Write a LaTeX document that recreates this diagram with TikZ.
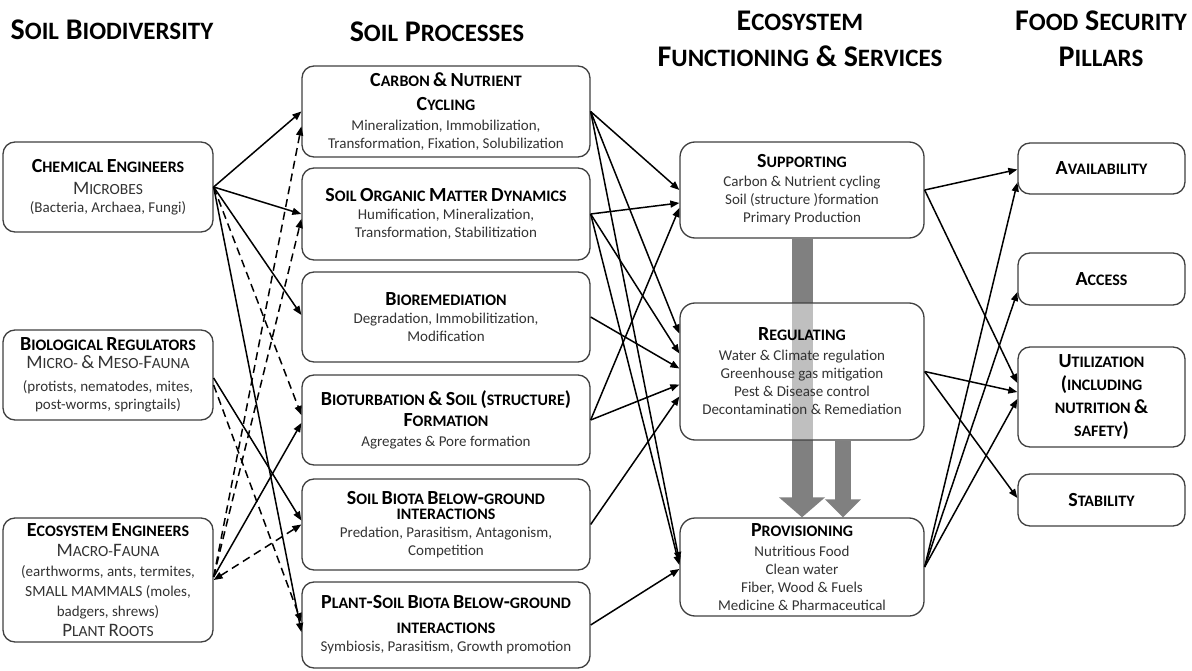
\documentclass[tikz,border=0pt]{standalone}
\usepackage{fontspec}
\setmainfont{Carlito}
\usetikzlibrary{arrows.meta,positioning,calc,backgrounds}
\newcommand\headsc[2]{#1{\fontsize{25}{36}\selectfont #2}}
\newcommand\ttlsc[2]{{\bfseries\color{black}\fontsize{20}{24}\selectfont #1\fontsize{16}{24}\selectfont #2}}
\newcommand\bodysc[2]{{\fontsize{19}{18}\selectfont #1\fontsize{15.5}{18}\selectfont #2}}
\tikzset{
  box/.style   ={draw=black!75,line width=1.3pt,rounded corners=12pt,fill=white,align=center,inner sep=2pt,
                 font=\fontsize{15}{18}\selectfont,text=black!80},
  biota/.style ={box,minimum width=210pt},
  proc/.style  ={box,minimum width=288pt},
  serv/.style  ={box,minimum width=244pt,rounded corners=15pt},
  pillar/.style={box,minimum width=167pt},
  head/.style  ={align=center,anchor=north,inner sep=0pt,font=\fontsize{30}{36}\selectfont\bfseries},
  link/.style  ={-{Triangle[length=9pt,width=7pt]},line width=1.5pt},
  dlink/.style ={link,dash pattern=on 8pt off 5pt},
  flow/.style  ={black!50},
}
\begin{document}
\begin{tikzpicture}[x=1pt,y=-1pt]
  \useasboundingbox (0,0) rectangle (1192,671);
  \node[head](h1) at (112,20){\headsc{S}{OIL} \headsc{B}{IODIVERSITY}};
  \node[head](h2) at (437,22){\headsc{S}{OIL} \headsc{P}{ROCESSES}};
  \node[head](h3) at (800,11){\headsc{E}{COSYSTEM}\\\headsc{F}{UNCTIONING} \& \headsc{S}{ERVICES}};
  \node[head](h4) at (1101,11){\headsc{F}{OOD} \headsc{S}{ECURITY}\\\headsc{P}{ILLARS}};

  \node[biota,minimum height=90pt](chem) at (108,187){\ttlsc{C}{HEMICAL} \ttlsc{E}{NGINEERS}\\[4pt]\bodysc{M}{ICROBES}\\(Bacteria, Archaea, Fungi)};
  \node[biota,minimum height=90pt](breg) at (108,375){\ttlsc{B}{IOLOGICAL} \ttlsc{R}{EGULATORS}\\\bodysc{M}{ICRO}- \bodysc{\&}{} \bodysc{M}{ESO}-\bodysc{F}{AUNA}\\[5pt](protists, nematodes, mites,\\post-worms, springtails)};
  \node[biota,minimum height=124pt,font=\fontsize{15}{20}\selectfont](eco) at (108,580){\ttlsc{E}{COSYSTEM} \ttlsc{E}{NGINEERS}\\\bodysc{M}{ACRO}-\bodysc{F}{AUNA}\\(earthworms, ants, termites,\\\bodysc{}{SMALL MAMMALS} (moles,\\badgers, shrews)\\\bodysc{P}{LANT} \bodysc{R}{OOTS}};

  \node[proc,minimum height=91pt](carb) at (446,111.5){\ttlsc{C}{ARBON} \ttlsc{\&}{} \ttlsc{N}{UTRIENT}\\[6pt]\ttlsc{C}{YCLING}\\[2pt]Mineralization, Immobilization,\\Transformation, Fixation, Solubilization};
  \node[proc,minimum height=92pt](som) at (446,214){\ttlsc{S}{OIL} \ttlsc{O}{RGANIC} \ttlsc{M}{ATTER} \ttlsc{D}{YNAMICS}\\Humification, Mineralization,\\Transformation, Stabilitization};
  \node[proc,minimum height=90pt](bior) at (446,317){\ttlsc{B}{IOREMEDIATION}\\Degradation, Immobilitization,\\Modification};
  \node[proc,minimum height=90pt](turb) at (446,420){\ttlsc{B}{IOTURBATION} \ttlsc{\&}{} \ttlsc{S}{OIL} \ttlsc{(}{STRUCTURE}\ttlsc{)}{}\\[3pt]\ttlsc{F}{ORMATION}\\[2pt]Agregates \& Pore formation};
  \node[proc,minimum height=91pt](biota) at (446,524.5){\ttlsc{S}{OIL} \ttlsc{B}{IOTA} \ttlsc{B}{ELOW}\ttlsc{-}{GROUND}\\[-3pt]\ttlsc{}{INTERACTIONS}\\Predation, Parasitism, Antagonism,\\Competition};
  \node[proc,minimum height=86pt](plant) at (446,625){\ttlsc{P}{LANT}\ttlsc{-S}{OIL} \ttlsc{B}{IOTA} \ttlsc{B}{ELOW}\ttlsc{-}{GROUND}\\[7pt]\ttlsc{}{INTERACTIONS}\\Symbiosis, Parasitism, Growth promotion};

  \node[serv,minimum height=96pt](sup) at (802,190){\ttlsc{S}{UPPORTING}\\[1pt]Carbon \& Nutrient cycling\\Soil (structure )formation\\Primary Production};
  \node[serv,minimum height=137pt,fill opacity=0.5,text opacity=1](reg) at (802,371.5){\ttlsc{R}{EGULATING}\\[2pt]Water \& Climate regulation\\Greenhouse gas mitigation\\Pest \& Disease control\\Decontamination \& Remediation};
  \node[serv,minimum height=98pt](prov) at (802,567){\ttlsc{P}{ROVISIONING}\\[2pt]Nutritious Food\\Clean water\\Fiber, Wood \& Fuels\\Medicine \& Pharmaceutical};

  \node[pillar,minimum height=51pt](avail) at (1101.5,168.5){\ttlsc{A}{VAILABILITY}};
  \node[pillar,minimum height=52pt](acc) at (1101.5,279){\ttlsc{A}{CCESS}};
  \node[pillar,minimum height=100pt](util) at (1101.5,397){\ttlsc{U}{TILIZATION}\\[5pt]\ttlsc{(}{INCLUDING}\\[5pt]\ttlsc{}{NUTRITION} \ttlsc{\&}{}\\[5pt]\ttlsc{}{SAFETY}\ttlsc{)}{}};
  \node[pillar,minimum height=52pt](stab) at (1101.5,500){\ttlsc{S}{TABILITY}};

  \begin{scope}[on background layer]
    \draw[flow,line width=21pt,-{Triangle[length=20pt,width=45pt]}](sup.south)--(prov.north);
    \draw[flow,line width=16pt,-{Triangle[length=18pt,width=35pt]}]([xshift=41pt]reg.south)--([xshift=41pt]prov.north);
  \end{scope}

  \foreach \t/\s in {carb/0,som/0,bior/2,plant/-7}{\draw[link](chem.east)--([yshift=\s pt]\t.west);}
  \draw[dlink](chem.east)--([yshift=5pt]turb.west);
  \draw[link]([yshift=-3pt]breg.east)--([yshift=4pt]biota.west);
  \draw[dlink]([yshift=-10pt]breg.east)--([yshift=3pt]plant.west);
  \foreach \t/\s in {carb/-15,som/-5}{\draw[dlink]([yshift=3pt]eco.east)--([yshift=\s pt]\t.west);}
  \draw[link]([yshift=3pt]eco.east)--([yshift=-3pt]turb.west);
  \draw[dlink,{Triangle[length=9pt,width=7pt]}-{Triangle[length=9pt,width=7pt]}](eco.east)--(biota.west);

  \foreach \f/\t/\s in {carb/sup/0,carb/reg/38,carb/prov/6,som/sup/-13,som/reg/18,som/prov/2,
                        bior/reg/3,turb/sup/-18,turb/reg/-13,biota/reg/-25,plant/prov/-2}{\draw[link](\f.east)--([yshift=\s pt]\t.west);}
  \foreach \f/\t/\s in {sup/avail/-1,sup/util/14,reg/util/5,reg/stab/2,prov/avail/-14,prov/acc/-13,prov/util/-2}{\draw[link](\f.east)--([yshift=\s pt]\t.west);}
\end{tikzpicture}
\end{document}
